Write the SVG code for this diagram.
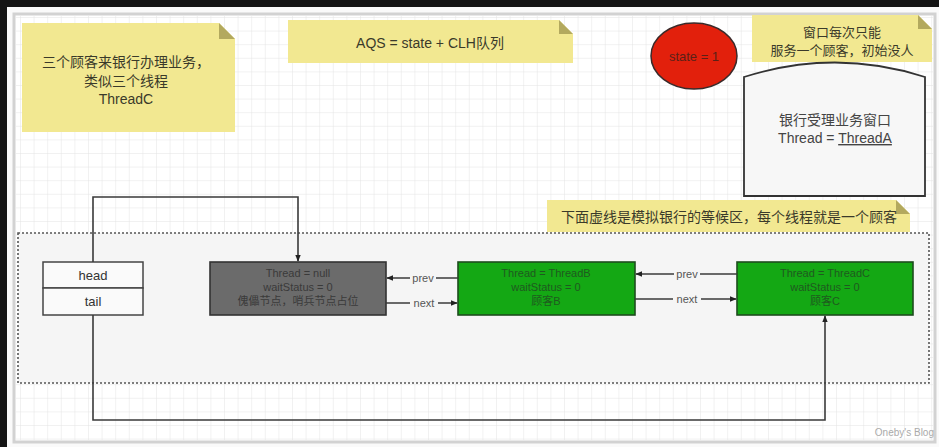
<svg xmlns="http://www.w3.org/2000/svg" width="939" height="447" viewBox="0 0 939 447">
<style>
.note{fill:#f2e891;}
.fold{fill:#b3a95e;}
.nt{font-family:"Liberation Sans","Noto Sans CJK SC",sans-serif;font-size:14px;fill:#3a3a2a;text-anchor:middle;}
.sm{font-family:"Liberation Sans","Noto Sans CJK SC",sans-serif;font-size:11px;text-anchor:middle;}
.lbl{font-family:"Liberation Sans","Noto Sans CJK SC",sans-serif;font-size:11px;fill:#555;text-anchor:middle;}
.conn{fill:none;stroke:#3a3a3a;stroke-width:1.6;}
</style>
<defs>
<pattern id="grid" width="13.6" height="13.6" patternUnits="userSpaceOnUse" x="20" y="17">
<path d="M13.6 0H0V13.6" fill="none" stroke="#e4e4e4" stroke-width="1"/>
</pattern>
<marker id="arr" viewBox="0 0 10 10" refX="9" refY="5" markerWidth="7" markerHeight="7" orient="auto" markerUnits="userSpaceOnUse">
<path d="M0 1L10 5L0 9z" fill="#222"/>
</marker>
</defs>
<rect x="0" y="0" width="939" height="447" fill="#141414"/>
<rect x="7" y="7" width="932" height="440" fill="#fafafa"/>
<rect x="14" y="14" width="921" height="428" fill="#ffffff" stroke="#d2d2d2" stroke-width="3"/>
<rect x="16" y="16" width="917" height="424" fill="url(#grid)"/>

<g id="note-customers">
<path class="note" d="M22 23H219L235 39V132H22z"/>
<path class="fold" d="M219 23V39H235z"/>
<text class="nt" x="126" y="67">三个顾客来银行办理业务，</text>
<text class="nt" x="126" y="86">类似三个线程</text>
<text class="nt" x="126" y="104">ThreadC</text>
</g>

<g id="note-aqs">
<path class="note" d="M288 20H559L573 34V63H288z"/>
<path class="fold" d="M559 20V34H573z"/>
<text class="nt" x="430" y="48">AQS = state + CLH队列</text>
</g>

<g id="state">
<ellipse cx="694" cy="56" rx="43" ry="33" fill="#e2200c" stroke="#3a2a2a" stroke-width="1.5"/>
<text class="sm" x="694" y="61" style="font-size:13px;fill:#5a2018">state = 1</text>
</g>

<g id="note-window">
<path class="note" d="M752 15H918L932 29V62H752z"/>
<path class="fold" d="M918 15V29H932z"/>
<text class="nt" x="842" y="37" style="font-size:13px">窗口每次只能</text>
<text class="nt" x="842" y="55" style="font-size:13px">服务一个顾客，初始没人</text>
</g>

<g id="window">
<path d="M744 77Q835 48 925 77V196H744z" fill="#f7f7f7" stroke="#333" stroke-width="1.8"/>
<text class="nt" x="835" y="125" style="fill:#444">银行受理业务窗口</text>
<text class="nt" x="835" y="143" style="fill:#444">Thread = <tspan text-decoration="underline">ThreadA</tspan></text>
</g>

<g id="note-wait">
<path class="note" d="M547 200H896L910 214V232H547z"/>
<path class="fold" d="M896 200V214H910z"/>
<text class="nt" x="729" y="222">下面虚线是模拟银行的等候区，每个线程就是一个顾客</text>
</g>

<g id="waiting-area">
<rect x="18" y="233" width="911" height="150" fill="#f5f5f5" stroke="#555" stroke-width="1.6" stroke-dasharray="2 2"/>
</g>

<g id="head-tail">
<rect x="43" y="262" width="100" height="26" fill="#fafafa" stroke="#444" stroke-width="1.5"/>
<rect x="43" y="288" width="100" height="27" fill="#fafafa" stroke="#444" stroke-width="1.5"/>
<text class="nt" x="93" y="280" style="font-size:13px;fill:#333">head</text>
<text class="nt" x="93" y="306" style="font-size:13px;fill:#333">tail</text>
</g>

<g id="node-null">
<rect x="210" y="262" width="176" height="53" fill="#6b6b6b" stroke="#333" stroke-width="1.6"/>
<text class="sm" x="298" y="277" fill="#3a3a3a">Thread = null</text>
<text class="sm" x="298" y="291" fill="#3a3a3a">waitStatus = 0</text>
<text class="sm" x="298" y="305" fill="#3a3a3a">傀儡节点，哨兵节点占位</text>
</g>

<g id="node-b">
<rect x="458" y="262" width="177" height="53" fill="#14a814" stroke="#1d4d1d" stroke-width="1.6"/>
<text class="sm" x="546" y="277" fill="#1f5a1f">Thread = ThreadB</text>
<text class="sm" x="546" y="291" fill="#1f5a1f">waitStatus = 0</text>
<text class="sm" x="546" y="305" fill="#1f5a1f">顾客B</text>
</g>

<g id="node-c">
<rect x="737" y="262" width="176" height="53" fill="#14a814" stroke="#1d4d1d" stroke-width="1.6"/>
<text class="sm" x="825" y="277" fill="#1f5a1f">Thread = ThreadC</text>
<text class="sm" x="825" y="291" fill="#1f5a1f">waitStatus = 0</text>
<text class="sm" x="825" y="305" fill="#1f5a1f">顾客C</text>
</g>

<g id="connectors">
<path class="conn" d="M93 262V197H298V261" marker-end="url(#arr)"/>
<path class="conn" d="M93 315V420H825V316" marker-end="url(#arr)"/>
<path class="conn" d="M458 278H387" marker-end="url(#arr)"/>
<path class="conn" d="M386 303H457" marker-end="url(#arr)"/>
<path class="conn" d="M737 274H636" marker-end="url(#arr)"/>
<path class="conn" d="M635 299H736" marker-end="url(#arr)"/>
<rect x="410" y="272" width="26" height="12" fill="#f5f5f5"/>
<text class="lbl" x="423" y="282">prev</text>
<rect x="410" y="297" width="28" height="12" fill="#f5f5f5"/>
<text class="lbl" x="424" y="307">next</text>
<rect x="674" y="268" width="26" height="12" fill="#f5f5f5"/>
<text class="lbl" x="687" y="278">prev</text>
<rect x="673" y="293" width="28" height="12" fill="#f5f5f5"/>
<text class="lbl" x="687" y="303">next</text>
</g>

<text x="934" y="436" style="font-family:'Liberation Sans',sans-serif;font-size:10px;fill:#aaa;text-anchor:end">Oneby's Blog</text>
</svg>
